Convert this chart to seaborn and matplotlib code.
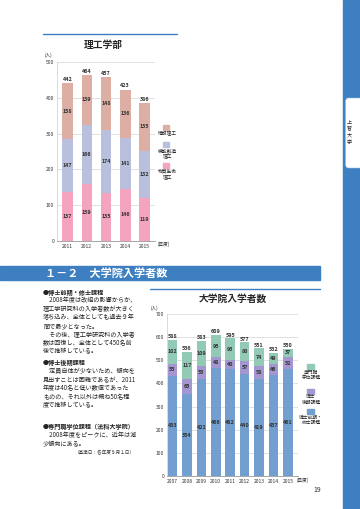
import numpy as np
import pandas as pd
import matplotlib
matplotlib.use('Agg')
import matplotlib.pyplot as plt
import seaborn as sns
from matplotlib.patches import Rectangle, FancyBboxPatch

sns.set_style('white')
plt.rcParams['font.family'] = ['Noto Sans CJK JP', 'DejaVu Sans']

# 理工学部 data
years1 = ['2011', '2012', '2013', '2014', '2015']
bussitsu = [137, 159, 135, 146, 119]   # 物質生命理工
kinou = [147, 166, 174, 141, 132]      # 機能創造理工
jouhou = [158, 139, 148, 136, 135]     # 情報理工

# 大学院入学者数 data
years2 = ['2007', '2008', '2009', '2010', '2011', '2012', '2013', '2014', '2015']
zenki = [433, 354, 421, 466, 462, 440, 419, 437, 461]   # 博士前期・修士課程
kouki = [53, 65, 53, 48, 40, 57, 58, 46, 52]            # 博士後期課程
senmon = [102, 117, 109, 95, 93, 80, 74, 49, 37]        # 専門職学位課程

W, H = 360, 509
fig = plt.figure(figsize=(W / 100, H / 100), dpi=100)

def fx(x):
    return x / W

def fy(y):
    return 1 - y / H

def rect(x0, y0, x1, y1):
    return [fx(x0), fy(y1), fx(x1) - fx(x0), fy(y0) - fy(y1)]

BLUE = '#3d7fc1'

# side bar + tab
fig.patches.append(Rectangle((fx(343), 0), fx(360) - fx(343), 1, transform=fig.transFigure,
                             color=BLUE, zorder=0))
fig.patches.append(FancyBboxPatch((fx(345.5), fy(168)), fx(20), fy(98) - fy(168),
                                  boxstyle='round,pad=0,rounding_size=0.008',
                                  transform=fig.transFigure, fc='white', ec='#9bbbe0',
                                  lw=0.4, zorder=1))
for i, ch in enumerate('上智大学'):
    fig.text(fx(349), fy(122 + i * 6.7), ch, fontsize=3.6, ha='center', va='center')


def stacked(ax, years, segs, colors, width, labels_total):
    df = pd.DataFrame({'year': years})
    cum = np.cumsum(np.array(segs), axis=0)
    for k in range(len(segs) - 1, -1, -1):
        sns.barplot(x=df['year'], y=cum[k], color=colors[k], width=width, saturation=1,
                    errorbar=None, linewidth=0, ax=ax, zorder=3)
    for i in range(len(years)):
        base = 0
        for k in range(len(segs)):
            v = segs[k][i]
            ax.text(i, base + v / 2, str(v), ha='center', va='center', fontsize=3.9,
                    fontweight='bold', color='#333333', zorder=5)
            base += v
        ax.text(i, base + labels_total, str(base), ha='center', va='bottom', fontsize=3.9,
                fontweight='bold', color='#333333', zorder=5)
    ax.set_xlabel('')
    ax.set_ylabel('')
    for s in ['top', 'right']:
        ax.spines[s].set_visible(False)
    ax.spines['left'].set_color('#cccccc')
    ax.spines['left'].set_linewidth(0.5)
    ax.spines['bottom'].set_color('#999999')
    ax.spines['bottom'].set_linewidth(0.6)
    ax.grid(axis='y', color='#d5d5d5', lw=0.5, zorder=0)
    ax.tick_params(axis='both', length=0, labelsize=3.6, pad=2, colors='#333333')


# ---- chart 1 ----
fig.lines.append(plt.Line2D([fx(43), fx(177)], [fy(34), fy(34)], transform=fig.transFigure,
                            color=BLUE, lw=1.0))
fig.text(fx(103), fy(45), '理工学部', fontsize=7, fontweight='bold', ha='center', va='center')
ax1 = fig.add_axes(rect(57, 62, 155, 241))
c1 = ['#f4a4be', '#b9c0de', '#ddafa4']
stacked(ax1, years1, [bussitsu, kinou, jouhou], c1, 0.55, 3)
ax1.set_ylim(0, 500)
ax1.set_yticks(range(0, 501, 100))
ax1.set_xlim(-0.55, 4.55)
fig.text(fx(45), fy(55), '(人)', fontsize=3.3, ha='left', va='center')
fig.text(fx(158), fy(244.5), '(年度)', fontsize=3.3, ha='left', va='center')

leg1 = [('情報理工', c1[2], 127),
        ('機能創造\n理工', c1[1], 144.5),
        ('物質生命\n理工', c1[0], 165)]
for name, col, py_ in leg1:
    fig.patches.append(Rectangle((fx(162.5), fy(py_ + 2.5)), fx(6), fy(0) - fy(5),
                                 transform=fig.transFigure, color=col))
    fig.text(fx(167.5), fy(py_ + 3.5), name, fontsize=3.4, ha='center', va='top',
             linespacing=1.15)

# ---- section header ----
fig.patches.append(Rectangle((0, fy(280)), fx(320), fy(266) - fy(280), transform=fig.transFigure,
                             color=BLUE))
fig.text(fx(45), fy(273), '１－２　大学院入学者数', fontsize=8, fontweight='bold', color='white',
         ha='left', va='center')

# ---- text block ----
lines = [
    (292, '●博士前期・修士課程', True),
    (300.5, '　2008年度は改組の影響からか、', False),
    (309, '理工学研究科の入学者数が大きく', False),
    (317.5, '落ち込み、全体としても過去９年', False),
    (326, '間で最少となった。', False),
    (334.5, '　その後、理工学研究科の入学者', False),
    (343, '数は回復し、全体として450名前', False),
    (351.5, '後で推移している。', False),
    (363, '●博士後期課程', True),
    (371.5, '　定員自体が少ないため、傾向を', False),
    (380, '見出すことは困難であるが、2011', False),
    (388.5, '年度は40名と低い数値であった', False),
    (397, 'ものの、それ以外は概ね50名程', False),
    (405.5, '度で推移している。', False),
    (427, '●専門職学位課程（法科大学院）', True),
    (435.5, '　2008年度をピークに、近年は減', False),
    (444, '少傾向にある。', False),
]
for y, t, b in lines:
    fig.text(fx(43), fy(y), t, fontsize=4.4, fontweight='bold' if b else 'normal',
             ha='left', va='center', color='#222222')
fig.text(fx(135), fy(452.5), '（基準日：各年度５月１日）', fontsize=3.3, ha='right', va='center',
         color='#333333')

# ---- chart 2 ----
fig.lines.append(plt.Line2D([fx(150), fx(320)], [fy(289), fy(289)], transform=fig.transFigure,
                            color=BLUE, lw=1.0))
fig.text(fx(233), fy(299), '大学院入学者数', fontsize=7, fontweight='bold', ha='center',
         va='center')
ax2 = fig.add_axes(rect(167, 314, 298, 476))
c2 = ['#729fd0', '#a496d0', '#93cab5']
stacked(ax2, years2, [zenki, kouki, senmon], c2, 0.66, 3)
ax2.set_ylim(0, 700)
ax2.set_yticks(range(0, 701, 100))
ax2.set_xlim(-0.38, 8.7)
fig.text(fx(151), fy(308), '(人)', fontsize=3.3, ha='left', va='center')
fig.text(fx(297), fy(480), '(年度)', fontsize=3.3, ha='left', va='center')

leg2 = [('専門職\n学位課程', c2[2], 366),
        ('博士\n後期課程', c2[1], 391),
        ('博士前期・\n修士課程', c2[0], 411)]
for name, col, py_ in leg2:
    fig.patches.append(Rectangle((fx(307), fy(py_ + 2.5)), fx(6.5), fy(0) - fy(5),
                                 transform=fig.transFigure, color=col))
    fig.text(fx(311), fy(py_ + 3.5), name, fontsize=3.4, ha='center', va='top',
             linespacing=1.15)

fig.text(fx(317), fy(490), '19', fontsize=5, ha='center', va='center', color='#333333')

fig.savefig('out.png', dpi=100)
